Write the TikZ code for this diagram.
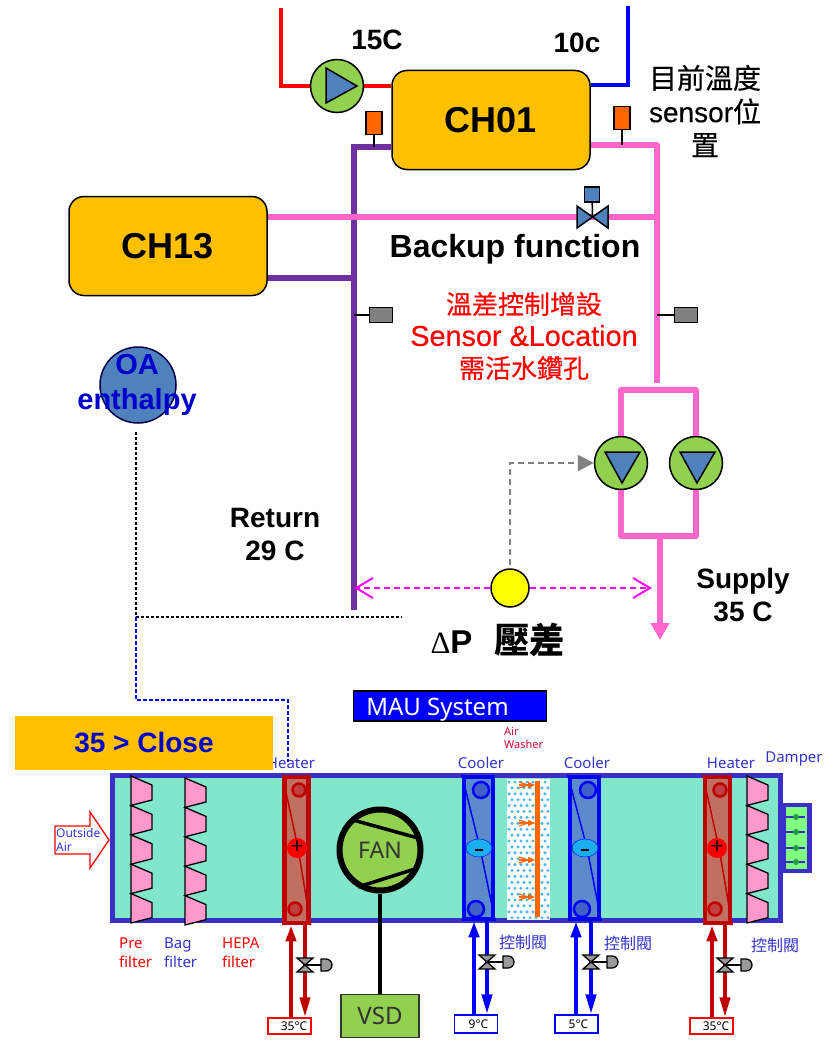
\documentclass[tikz,border=0pt]{standalone}
\usepackage{fontspec}
\setmainfont{Liberation Sans}
\newfontfamily\cjk{Noto Sans CJK TC}
\newfontfamily\uifont{Noto Sans}
\newfontfamily\medfont[FakeBold=0.4]{Liberation Sans}
\newfontfamily\cjkmed[FakeBold=0.4]{Noto Sans CJK TC}
\newfontfamily\deltafont{Liberation Serif}
\usepackage{xcolor}
\usepackage{tikz}
\usetikzlibrary{arrows.meta, calc}

\definecolor{chgold}{HTML}{FFC000}
\definecolor{pumpgreen}{HTML}{92D050}
\definecolor{pumpblue}{HTML}{4F81BD}
\definecolor{retpurple}{HTML}{7030A0}
\definecolor{suppink}{HTML}{FF66CC}
\definecolor{sensorange}{HTML}{FF6600}
\definecolor{ductblue}{HTML}{3A30C8}
\definecolor{ductfill}{HTML}{80E6CC}
\definecolor{filterpink}{HTML}{FF99CC}
\definecolor{hotred}{HTML}{C00000}
\definecolor{hotfill}{HTML}{C07060}
\definecolor{hotring}{HTML}{C04040}
\definecolor{coldfill}{HTML}{5B8BCB}
\definecolor{coldring}{HTML}{4060C8}
\definecolor{dotblue}{HTML}{4DB8EE}
\definecolor{textblue}{HTML}{0000CC}
\definecolor{labelblue}{HTML}{3333CC}
\definecolor{dpmagenta}{HTML}{FF00FF}
\definecolor{dpyellow}{HTML}{FFFF00}
\definecolor{minusblue}{HTML}{19AEEF}
\definecolor{damperfill}{HTML}{80FF80}
\definecolor{dampergreen}{HTML}{20A040}

\begin{document}
\begin{tikzpicture}[
    x=1pt, y=-1pt,
    chiller/.style={draw, line width=1.5pt, rectangle, rounded corners=15pt, fill=chgold, minimum width=198pt, minimum height=99pt, font=\fontsize{36}{40}\selectfont\bfseries},
    pump/.style={draw, line width=1.5pt, circle, fill=pumpgreen, minimum size=53pt, inner sep=0pt},
    pumptri/.style={draw, line width=1.5pt, fill=pumpblue, line join=miter},
    sensorbox/.style={draw, line width=1.5pt, rectangle, fill=sensorange, minimum width=16pt, minimum height=23pt, inner sep=0pt},
    graybox/.style={draw, line width=1.5pt, rectangle, fill=black!50, minimum width=23pt, minimum height=15pt, inner sep=0pt},
    stem/.style={draw, line width=1.5pt},
    bold/.style={font=\fontsize{28}{33}\selectfont\bfseries, align=center, inner sep=0pt},
    redtext/.style={font=\fontsize{28.8}{32}\selectfont\medfont, align=center, text=red, inner sep=0pt},
    redpipe/.style={draw=red, line width=3.5pt},
    bluepipe/.style={draw=blue, line width=3.5pt},
    retpipe/.style={draw=retpurple, line width=5.5pt},
    suppipe/.style={draw=suppink, line width=5.5pt, line join=round},
    filterbank/.style={draw=black, line width=1.3pt, fill=filterpink, line join=miter},
    coilhot/.style={draw=hotred, line width=4.5pt, fill=hotfill, rectangle, inner sep=0pt},
    coilcold/.style={draw=blue, line width=4.5pt, fill=coldfill, rectangle, inner sep=0pt},
    label/.style={font=\fontsize{15}{19}\selectfont\uifont, align=left, inner sep=0pt},
    ctllabel/.style={font=\fontsize{16}{18}\selectfont\cjk, text=labelblue, inner sep=0pt},
    tempbox/.style={draw, line width=1.3pt, rectangle, fill=white, inner sep=0pt, minimum width=43pt, font=\fontsize{12}{12}\selectfont\uifont}
]
\useasboundingbox (0,0) rectangle (836,1041);

% Chillers and pumps
\node[chiller] (ch01) at (491,120) {\raisebox{-2pt}{CH01}};
\node[chiller] (ch13) at (168,246) {\raisebox{-3pt}{CH13}};
\node[pump] (pumpa) at (337,86) {};
\node[pump] (pumpb) at (621,463) {};
\node[pump] (pumpc) at (696,463) {};

% Points on the pipes
\coordinate (redtop) at (281,8);
\coordinate (redbend) at (281,86);
\coordinate (bluetop) at (628,6);
\coordinate (bluebend) at (628,85);
\coordinate (retbend) at (354,147);
\coordinate (retend) at (354,610);
\coordinate (rettee) at (354,278);
\coordinate (supbend) at (657,145);
\coordinate (supend) at (657,383);
\coordinate (suptee) at (657,217);
\coordinate (banktop) at (0,390);
\coordinate (bankbot) at (0,536);
\coordinate (outtop) at (660,536);
\coordinate (outend) at (660,640);

% Pipes
\draw[retpipe] (ch01.west |- retbend) -- (retbend) -- (retend);
\draw[retpipe] (ch13.east |- rettee) -- (rettee);
\draw[redpipe] (redtop) -- (redbend) -- (pumpa.west);
\draw[redpipe] (pumpa.east) -- (ch01.west |- pumpa);
\draw[bluepipe] (bluetop) -- (bluebend) -- (ch01.east |- bluebend);
\draw[suppipe] (ch01.east |- supbend) -- (supbend) -- (supend);
\draw[suppipe] (ch13.east |- suptee) -- (suptee);
\draw[suppipe] (pumpb.north) -- (pumpb.north |- banktop) -- (pumpc.north |- banktop) -- (pumpc.north);
\draw[suppipe] (pumpb.south) -- (pumpb.south |- bankbot) -- (pumpc.south |- bankbot) -- (pumpc.south);
\draw[suppipe, -{Triangle[length=17pt, width=18pt]}] (outtop) -- (outend);

% Pump symbols
\draw[pumptri] (326,68) -- (357,86) -- (326,103) -- cycle;
\draw[pumptri] (605,452) -- (640,452) -- (622,483) -- cycle;
\draw[pumptri] (680,452) -- (715,452) -- (697,483) -- cycle;

% Sensors
\node[sensorbox] (senA) at (374,123) {};
\node[sensorbox] (senB) at (622,118) {};
\node[graybox] (senC) at (381,315) {};
\node[graybox] (senD) at (686,315) {};
\draw[stem] (senA) -- (senA |- retbend);
\draw[stem] (senB) -- (senB |- supbend);
\draw[stem] (senC) -- (retend |- senC);
\draw[stem] (senD) -- (supend |- senD);

% Backup valve
\coordinate (bkvalve) at (592.5,217);
\node[draw, line width=1.5pt, rectangle, fill=pumpblue, minimum size=15pt, inner sep=0pt] (bkbox) at (592,194.5) {};
\draw[stem] (bkbox) -- (bkvalve);
\draw[pumptri] (577,206) -- (608,228) -- (608,206) -- (577,228) -- cycle;

% Pressure sensor
\node[draw, line width=1.5pt, circle, fill=dpyellow, minimum size=38pt, inner sep=0pt] (dp) at (510,588) {};
\coordinate (dpleft) at (354,588);
\coordinate (dpright) at (652,588);
\coordinate (dpbend) at (510,463);
\coordinate (dpstart) at (510,565);
\draw[dpmagenta, line width=2pt, dash pattern=on 6pt off 4pt, -{Straight Barb[length=17pt, width=20pt]}] (dp) -- (dpleft);
\draw[dpmagenta, line width=2pt, dash pattern=on 6pt off 4pt, -{Straight Barb[length=17pt, width=20pt]}] (dp) -- (dpright);
\draw[black!50, line width=2pt, dash pattern=on 6pt off 4pt, -{Triangle[length=16pt, width=16pt]}] (dpstart) -- (dpbend) -- (pumpb.west);

% OA enthalpy link
\node[draw=black!70!blue, line width=1.5pt, circle, fill=pumpblue, minimum size=76pt, inner sep=0pt] (oa) at (138,385) {};
\coordinate (linkstart) at (136,432);
\coordinate (linkA) at (136,617);
\coordinate (linkB) at (402,617);
\coordinate (linkC) at (136,700);
\coordinate (linkD) at (288,700);
\coordinate (linkE) at (288,762);
\draw[black, line width=1.2pt, dash pattern=on 3pt off 2pt] (linkstart) -- (linkA) -- (linkB);
\draw[blue, line width=1.4pt, dash pattern=on 4pt off 2pt] (linkA) -- (linkC) -- (linkD) -- (linkE);

% Top labels
\node[bold] (t15c) at (377,40) {15C};
\node[bold] (t10c) at (577,43) {10c};
\node[inner sep=0pt, align=center, font=\fontsize{28}{33.5}\selectfont\medfont] (tsens) at (705,111) {{\cjkmed 目前溫度}\\sensor{\cjkmed 位}\\{\cjkmed 置}};
\node[bold, font=\fontsize{32}{33}\selectfont\bfseries] (tbackup) at (515,249) {Backup function};
\node[redtext] (tnew) at (524,336) {{\fontsize{26}{32}\selectfont\cjkmed 溫差控制增設}\\Sensor \&Location\\{\fontsize{26}{32}\selectfont\cjkmed 需活水鑽孔}};
\node[inner sep=0pt, align=center, text=textblue, font=\fontsize{29}{35}\selectfont\bfseries] (toa) at (137,385) {OA\\enthalpy};
\node[bold] (tret) at (275,534) {Return\\29 C};
\node[bold] (tsup) at (743,595) {Supply\\35 C};
\node[inner sep=0pt, font=\fontsize{33}{36}\selectfont\bfseries] (tdp) at (498,640) {{\fontsize{31}{36}\selectfont\deltafont\mdseries Δ}P\hspace{22pt}{\fontsize{35.5}{36}\selectfont\cjk 壓差}};

% MAU title
\node[draw, line width=1.5pt, rectangle, fill=blue, text=white, minimum width=193pt, minimum height=30pt, inner sep=0pt, font=\fontsize{24}{26}\selectfont\uifont] (mau) at (450,706) {\hspace{-25pt}\raisebox{-9pt}[0pt][0pt]{MAU System}};

% MAU duct
\draw[draw=ductblue, line width=5pt, fill=ductfill] (112.5,775) rectangle (780,920);
\node[draw=ductblue, line width=4.5pt, fill=damperfill, rectangle, minimum width=26pt, minimum height=66pt, inner sep=0pt] (damper) at (796.5,838) {};
\foreach \y in {817,832,848,862} {
    \draw[ductblue, line width=1.5pt] (784,\y) -- (805,\y);
    \fill[dampergreen] (796,\y) circle (3pt);
}

% Filters
\foreach \x/\ytop in {131/776, 185/778, 747/776} {
    \draw[filterbank] (\x,\ytop)
        \foreach \i in {0,1,2,3,4} {
            -- ++(21,9) -- ++(0,15) -- ++(-21,5.4)
        } -- cycle;
}

% Coils
\node[coilhot, minimum width=24pt, minimum height=146pt] (coilA) at (296.5,850) {};
\node[coilcold, minimum width=29pt, minimum height=142pt] (coilB) at (478.5,848) {};
\node[coilcold, minimum width=29pt, minimum height=142pt] (coilC) at (584.5,848) {};
\node[coilhot, minimum width=25pt, minimum height=146pt] (coilD) at (717.5,850) {};
\foreach \n/\xa/\xb/\col/\ring/\rad in {A/299/295/hotred/hotring/6.5, B/481/476/blue/coldring/8, C/588/582/blue/coldring/8, D/720/715/hotred/hotring/6.5} {
    \draw[\col, line width=1.5pt] (coil\n.north west) -- (\xa-1,848) -- (coil\n.south east);
    \draw[\col, line width=2.5pt, fill=\ring] (\xa,790) circle (\rad pt);
    \draw[\col, line width=2.5pt, fill=\ring] (\xb,909) circle (\rad pt);
}
\foreach \x in {297,717} {
    \node[draw=none, circle, fill=red, minimum size=20pt, inner sep=0pt, font=\fontsize{22}{22}\selectfont] at (\x,848) {\raisebox{1pt}{+}};
}
\foreach \x in {479,585} {
    \draw[draw=blue, fill=minusblue] (\x,848) ellipse (13pt and 9pt);
    \draw[black, line width=2.2pt] (\x-4,850) -- (\x+4,850);
}

% Air washer
\fill[white] (507,779) rectangle (550,920);
\foreach \r in {0,...,23} {
    \foreach \c in {0,...,6} {
        \fill[dotblue] ({509+\c*6+mod(\r,2)*3},{782+\r*5.9}) circle (1.7pt);
    }
}
\draw[sensorange, line width=5pt] (537,781) -- (537,917);
\foreach \y in {785,823,860,897} {
    \draw[sensorange, line width=1.2pt] (519,\y-3) -- (528,\y);
    \draw[sensorange, line width=1.2pt] (519,\y+3) -- (528,\y);
    \draw[sensorange, line width=1.2pt, -{Triangle[length=7pt, width=6pt]}] (519,\y) -- (535,\y);
}

% Fan and VSD
\node[draw, line width=6pt, circle, fill=pumpgreen, minimum size=81pt, inner sep=0pt, font=\fontsize{23}{25}\selectfont\uifont, text=black!80] (fan) at (380,850) {FAN};
\draw[line width=3.5pt] (353,820) -- (418,838);
\draw[line width=3.5pt] (358,887) -- (418,868);
\node[draw=black!80, line width=1.5pt, rectangle, fill=pumpgreen, minimum width=78pt, minimum height=43pt, inner sep=0pt, font=\fontsize{24}{26}\selectfont\uifont, text=black!80] (vsd) at (380,1016) {VSD};
\draw[line width=4pt] (fan) -- (vsd);

% Outside air
\draw[red, line width=1.3pt, fill=white] (55,826) -- (90,826) -- (90,812) -- (109,840) -- (90,868) -- (90,854) -- (55,854) -- cycle;
\node[label, anchor=west, text=labelblue, font=\fontsize{12}{13.5}\selectfont\uifont] (toutside) at (56,840) {Outside\\Air};

% Temperature boxes and water lines
\node[tempbox, draw=red, minimum height=16pt] (tempA) at (289.5,1026) {\hspace{9pt}35°C};
\node[tempbox, draw=blue, minimum height=18pt] (tempB) at (476,1024) {\hspace{5pt}9°C};
\node[tempbox, draw=blue, minimum height=18pt] (tempC) at (576.5,1024) {\hspace{4pt}5°C};
\node[tempbox, draw=red, minimum height=16pt] (tempD) at (711.5,1026) {\hspace{9pt}35°C};
\foreach \n/\xup/\xdn/\col in {A/291/305/hotred, B/474/487/blue, C/576/591/blue, D/712/725/hotred} {
    \draw[\col, line width=4pt, -{Triangle[length=16pt, width=10pt]}] (temp\n.north -| \xup,0) -- (coil\n.south -| \xup,0);
    \draw[\col, line width=4pt, -{Triangle[length=20pt, width=10pt]}] (coil\n.south -| \xdn,0) -- (temp\n.north -| \xdn,0);
}

% Control valves
\foreach \x/\y in {305/965, 487/962, 591/962, 725/965} {
    \draw[line width=1.5pt] (\x,\y) -- (\x+16,\y);
    \draw[line width=1.3pt, fill=black!40] (\x-8,\y-7) -- (\x+8,\y-7) -- (\x-8,\y+7) -- (\x+8,\y+7) -- cycle;
    \draw[line width=1.3pt, fill=black!40] (\x+16,\y-6) -- (\x+21,\y-6) arc (90:-90:6pt) -- (\x+16,\y+6) -- cycle;
}

% Duct labels
\node[label, text=labelblue] (theatA) at (291,763) {Heater};
\node[label, text=labelblue] (tcoolB) at (481,763) {Cooler};
\node[label, text=labelblue] (tcoolC) at (587,763) {Cooler};
\node[label, text=labelblue] (theatD) at (731,763) {Heater};
\node[label, text=labelblue] (tdamper) at (794,759) {Damper};
\node[label, text=red!80!blue, anchor=west, font=\fontsize{11}{13}\selectfont\uifont] (twash) at (504,738) {Air\\Washer};
\node[label, text=red, anchor=north west] (tpre) at (119,938) {Pre\\filter};
\node[label, text=labelblue, anchor=north west] (tbag) at (164,938) {Bag\\filter};
\node[label, text=red, anchor=north west] (thepa) at (222,938) {HEPA\\filter};
\node[ctllabel] (tctlB) at (523,942) {控制閥};
\node[ctllabel] (tctlC) at (628,943) {控制閥};
\node[ctllabel] (tctlD) at (775,945) {控制閥};

% Close banner
\node[rectangle, fill=chgold, minimum width=258pt, minimum height=54pt, inner sep=0pt, text=textblue, font=\fontsize{28}{30}\selectfont\bfseries] (close) at (144,743) {35 > Close};

\end{tikzpicture}
\end{document}
